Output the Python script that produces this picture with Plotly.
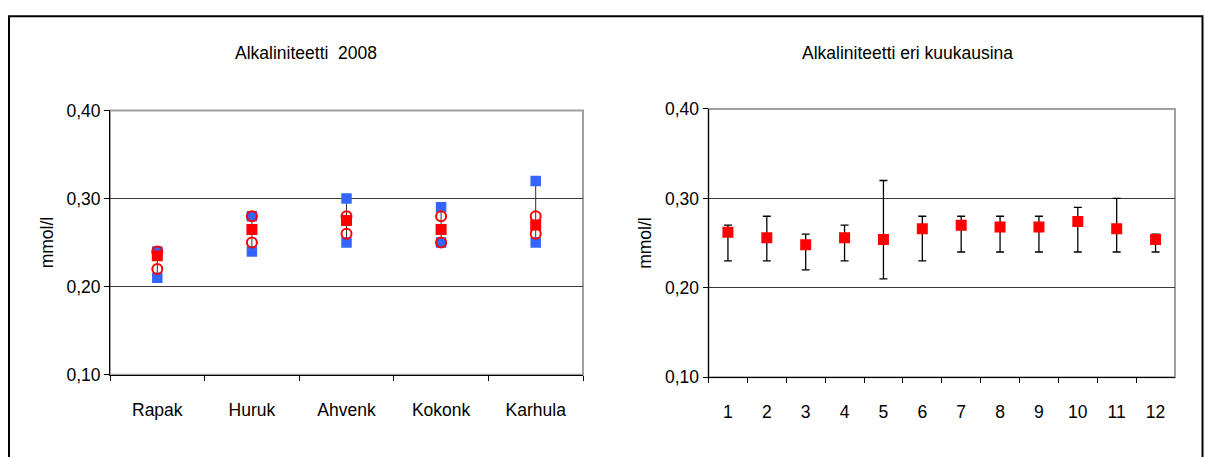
import plotly.graph_objects as go

# --- Alkalinity per station, 2008 (mmol/l) ---
stations = ["Rapak", "Huruk", "Ahvenk", "Kokonk", "Karhula"]
st_min = [0.21, 0.24, 0.25, 0.25, 0.25]
st_max = [0.24, 0.28, 0.30, 0.29, 0.32]
st_mean = [0.235, 0.265, 0.275, 0.265, 0.270]
st_low = [0.22, 0.25, 0.26, 0.25, 0.26]
st_high = [0.24, 0.28, 0.28, 0.28, 0.28]

# --- Alkalinity by month (mmol/l) ---
months = ["1", "2", "3", "4", "5", "6", "7", "8", "9", "10", "11", "12"]
mo_mean = [0.262, 0.256, 0.248, 0.256, 0.254, 0.266, 0.270, 0.268, 0.268, 0.274, 0.266, 0.254]
mo_min = [0.23, 0.23, 0.22, 0.23, 0.21, 0.23, 0.24, 0.24, 0.24, 0.24, 0.24, 0.24]
mo_max = [0.27, 0.28, 0.26, 0.27, 0.32, 0.28, 0.28, 0.28, 0.28, 0.29, 0.30, 0.26]

y_ticks = [0.10, 0.20, 0.30, 0.40]

BLUE = "rgb(51,102,255)"
RED = "rgb(255,0,0)"
FONT = "Liberation Sans, Arial, sans-serif"

W, H = 1205, 457


def px_x(v):
    return v / W


def px_y(v):
    return 1 - v / H


fig = go.Figure()

# Left chart: min-max range line behind the markers
fig.add_trace(go.Scatter(
    x=stations, y=st_min, mode="markers", marker=dict(size=1, opacity=0),
    error_y=dict(type="data", symmetric=False,
                 array=[hi - lo for hi, lo in zip(st_max, st_min)],
                 arrayminus=[0] * len(st_min),
                 color="#303030", thickness=1, width=0),
    xaxis="x", yaxis="y", hoverinfo="skip", showlegend=False))
fig.add_trace(go.Scatter(
    x=stations + stations, y=st_min + st_max, mode="markers",
    marker=dict(symbol="square", size=10.5, color=BLUE),
    xaxis="x", yaxis="y", showlegend=False))
fig.add_trace(go.Scatter(
    x=stations, y=st_mean, mode="markers",
    marker=dict(symbol="square", size=11, color=RED),
    xaxis="x", yaxis="y", showlegend=False))
fig.add_trace(go.Scatter(
    x=stations + stations, y=st_low + st_high, mode="markers",
    marker=dict(symbol="circle-open", size=10, color=RED, line=dict(width=2, color=RED)),
    xaxis="x", yaxis="y", showlegend=False))

# Right chart: monthly mean with min-max error bars
fig.add_trace(go.Scatter(
    x=months, y=mo_mean, mode="markers",
    marker=dict(symbol="square", size=11, color=RED),
    error_y=dict(type="data", symmetric=False,
                 array=[hi - m for hi, m in zip(mo_max, mo_mean)],
                 arrayminus=[m - lo for m, lo in zip(mo_mean, mo_min)],
                 color="black", thickness=1.3, width=4),
    xaxis="x2", yaxis="y2", showlegend=False))

tick_font = dict(family=FONT, size=17.5, color="black")

yaxis_common = dict(
    range=[0.10, 0.40], tickvals=y_ticks, tickformat=".2f",
    ticks="outside", ticklen=5, tickcolor="black", tickwidth=1,
    showgrid=True, gridcolor="#3a3a3a", gridwidth=1, zeroline=False,
    showline=True, linecolor="black", linewidth=1,
    tickfont=tick_font, fixedrange=True,
)
xaxis_common = dict(
    type="category", tickson="boundaries", ticks="outside", ticklen=5,
    tickcolor="black", tickwidth=1, showgrid=False, zeroline=False,
    showline=True, linecolor="black", linewidth=1, ticklabelstandoff=19,
    tickfont=tick_font, fixedrange=True,
)

fig.update_layout(
    width=W, height=H,
    margin=dict(l=0, r=0, t=0, b=0),
    paper_bgcolor="white", plot_bgcolor="white",
    separators=",.",
    font=dict(family=FONT, size=17.5, color="black"),
    xaxis=dict(domain=[px_x(110), px_x(583)], anchor="y",
               range=[-0.5, len(stations) - 0.5], **xaxis_common),
    yaxis=dict(domain=[px_y(381.5), px_y(105)], anchor="x",
               title=dict(text="mmol/l", font=tick_font, standoff=8), **yaxis_common),
    xaxis2=dict(domain=[px_x(708.5), px_x(1175)], anchor="y2",
                range=[-0.5, len(months) - 0.5], **xaxis_common),
    yaxis2=dict(domain=[px_y(384), px_y(103.5)], anchor="x2",
                title=dict(text="mmol/l", font=tick_font, standoff=8), **yaxis_common),
    annotations=[
        dict(text="Alkaliniteetti  2008", x=px_x(306), y=px_y(45), xref="paper", yref="paper",
             showarrow=False, xanchor="center", yanchor="middle",
             font=dict(family=FONT, size=17.5, color="black")),
        dict(text="Alkaliniteetti eri kuukausina", x=px_x(907), y=px_y(45), xref="paper",
             yref="paper", showarrow=False, xanchor="center", yanchor="middle",
             font=dict(family=FONT, size=17.5, color="black")),
    ],
    shapes=[
        # outer frame
        dict(type="rect", xref="paper", yref="paper",
             x0=px_x(9), x1=px_x(1202.5), y0=-0.05, y1=px_y(6.5),
             line=dict(color="black", width=2), fillcolor="rgba(0,0,0,0)", layer="above"),
        # gray plot-area frames
        dict(type="rect", xref="x domain", yref="y domain", x0=0, x1=1, y0=0, y1=1,
             line=dict(color="#a0a0a0", width=2), layer="below"),
        dict(type="rect", xref="x2 domain", yref="y2 domain", x0=0, x1=1, y0=0, y1=1,
             line=dict(color="#a0a0a0", width=2), layer="below"),
    ],
)

fig.write_html("out.html")
